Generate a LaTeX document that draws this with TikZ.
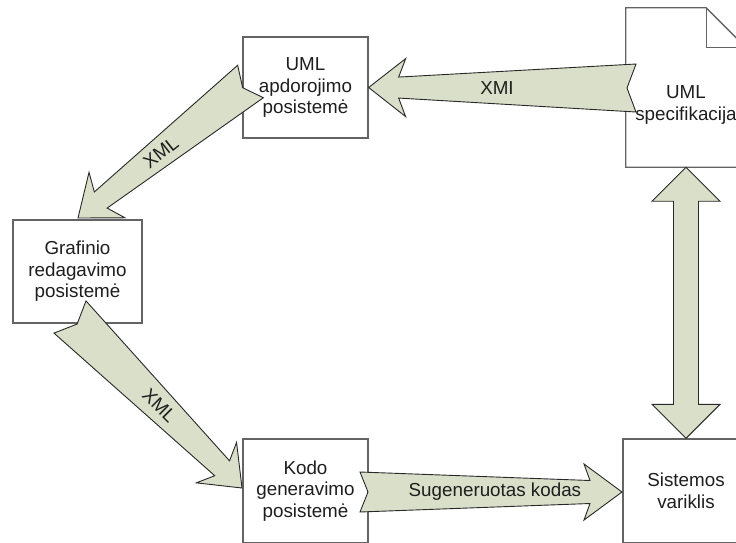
\documentclass[tikz,border=0pt]{standalone}
\usepackage{fontspec}
\setmainfont{Liberation Sans}
\usetikzlibrary{calc}
\definecolor{arrowfill}{RGB}{218,223,201}
\definecolor{boxline}{RGB}{100,100,100}
\definecolor{arrowline}{RGB}{40,40,40}
\definecolor{textcol}{RGB}{30,30,30}
\tikzset{
  every node/.style={text=textcol, font=\fontsize{18.8}{21.6}\selectfont},
  sysbox/.style={draw=boxline, line width=1.3pt, fill=white, rectangle, align=center, inner sep=0pt},
  barrow/.style={draw=arrowline, line width=0.9pt, fill=arrowfill, line join=miter},
  arrowlabel/.style={inner sep=0pt}
}
% tapered notched block arrow
% #1 tail, #2 tip, #3 tail half width, #4 notch depth, #5 shaft end back from tip,
% #6 shaft half width, #7 barb back from tip, #8 head half width
\newcommand{\taparrow}[8]{%
  \coordinate (ta) at (#1);
  \coordinate (tb) at (#2);
  \coordinate (se) at ($(tb)!#5!(ta)$);
  \coordinate (bb) at ($(tb)!#7!(ta)$);
  \draw[barrow] ($(ta)!#3!90:(tb)$) -- ($(ta)!#4!(tb)$) -- ($(ta)!#3!-90:(tb)$)
    -- ($(se)!#6!-90:(tb)$) -- ($(bb)!#8!-90:(tb)$) -- (tb)
    -- ($(bb)!#8!90:(tb)$) -- ($(se)!#6!90:(tb)$) -- cycle;
}
\begin{document}
\begin{tikzpicture}[x=1pt,y=-1pt]
\useasboundingbox (0,0) rectangle (736,542);
\fill[white] (0,0) rectangle (736,542);
\clip (0,0) rectangle (736,542);

% boxes
\node[sysbox, minimum width=125pt, minimum height=101pt] (uml) at (305.5,87.5) {UML\\apdorojimo\\posistemė};
\node[sysbox, minimum width=129pt, minimum height=103pt] (graf) at (77.5,271.5) {Grafinio\\redagavimo\\posistemė};
\node[sysbox, minimum width=125pt, minimum height=104pt] (kodo) at (305.5,491) {Kodo\\generavimo\\posistemė};
\node[sysbox, minimum width=126pt, minimum height=104pt] (sis) at (686,491) {Sistemos\\variklis};

% document shape
\node[rectangle, minimum width=120pt, minimum height=159pt, inner sep=0pt] (doc) at (686,87.5) {};
\draw[draw=boxline, line width=1.3pt, fill=white, line join=miter]
  (doc.north west) -- ([xshift=-40pt]doc.north east) -- ([yshift=-40pt]doc.north east)
  -- (doc.south east) -- (doc.south west) -- cycle;
\draw[draw=boxline, line width=1.3pt, line join=miter]
  ([xshift=-40pt]doc.north east) -- ([xshift=-40pt,yshift=-40pt]doc.north east) -- ([yshift=-40pt]doc.north east);
\node[align=center, inner sep=0pt] (doctext) at (686,105) {UML\\specifikacija};

% arrow end points
\coordinate (xmitail) at (636,88);
\coordinate (xmltail1) at (250.5,81.5);
\coordinate (xmltip1) at (78,218);
\coordinate (xmltail2) at (70,317);
\coordinate (xmltip2) at (242,488);
\coordinate (sugtail) at (360,492);
\coordinate (sugtip) at (622,492);

% arrows
\taparrow{xmitail}{uml.east}{24pt}{9pt}{30pt}{10.5pt}{37pt}{29pt}
\taparrow{xmltail1}{xmltip1}{20.7pt}{10pt}{29pt}{10.3pt}{37pt}{29pt}
\taparrow{xmltail2}{xmltip2}{22.7pt}{10pt}{28pt}{10.5pt}{36pt}{28.5pt}
\taparrow{sugtail}{sugtip}{20pt}{8pt}{32pt}{11.5pt}{38pt}{28pt}

% double arrow
\coordinate (dtop) at (doc.south);
\coordinate (dbot) at (sis.north);
\draw[barrow] (dtop) -- ($(dtop)+(34,34)$) -- ($(dtop)+(12.5,34)$) -- ($(dbot)+(12.5,-34)$)
  -- ($(dbot)+(34,-34)$) -- (dbot) -- ($(dbot)+(-34,-34)$) -- ($(dbot)+(-12.5,-34)$)
  -- ($(dtop)+(-12.5,34)$) -- ($(dtop)+(-34,34)$) -- cycle;

% labels
\path (xmitail) -- (uml.east) node[arrowlabel, pos=0.52] (lxmi) {XMI};
\path (xmltail1) -- (xmltip1) node[arrowlabel, pos=0.52, sloped] (lxml1) {XML};
\path (xmltail2) -- (xmltip2) node[arrowlabel, pos=0.52, sloped] (lxml2) {XML};
\path (sugtail) -- (sugtip) node[arrowlabel, pos=0.515] (lsug) {Sugeneruotas kodas};
\end{tikzpicture}
\end{document}
